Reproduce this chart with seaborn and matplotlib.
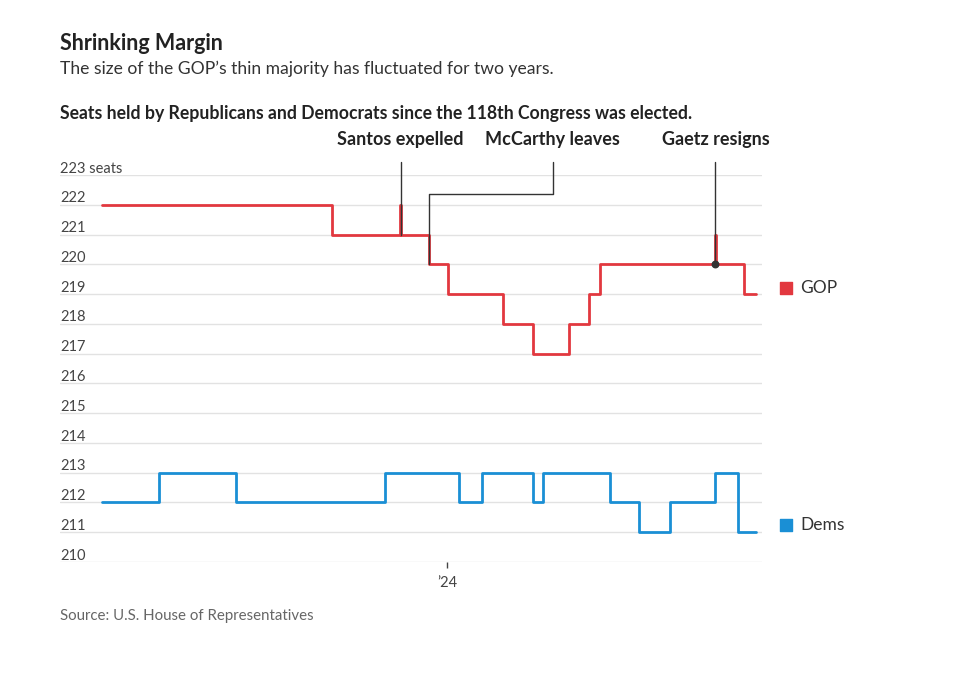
import matplotlib
matplotlib.use("Agg")
import matplotlib.pyplot as plt
import matplotlib.transforms as mtransforms
import pandas as pd
import seaborn as sns


# Seat counts (step changes)
GOP_DATES = ["2023-01-03", "2023-09-02", "2023-11-12", "2023-11-14", "2023-12-13",
             "2024-01-02", "2024-02-29", "2024-03-31", "2024-05-08", "2024-05-29",
             "2024-06-10", "2024-10-09", "2024-10-10", "2024-11-08", "2024-11-21"]
GOP_SEATS = [222, 221, 222, 221, 220, 219, 218, 217, 218, 219, 220, 221, 220, 219, 219]

DEM_DATES = ["2023-01-03", "2023-03-04", "2023-05-24", "2023-10-28", "2024-01-13",
             "2024-02-07", "2024-03-31", "2024-04-11", "2024-06-20", "2024-07-21",
             "2024-08-22", "2024-10-09", "2024-11-02", "2024-11-21"]
DEM_SEATS = [212, 213, 212, 213, 212, 213, 212, 213, 212, 211, 212, 213, 211, 211]

Y_TICKS = list(range(210, 224))

EVENT_LABELS = ["Santos expelled", "McCarthy leaves", "Gaetz resigns"]
EVENT_LABEL_X = ["2023-11-13", "2024-04-21", "2024-10-09"]
EVENT_LINE_X = ["2023-11-13", "2023-12-13", "2024-10-09"]
EVENT_LINE_Y = [221, 220, 220]

RED = "#e2383f"
BLUE = "#1a8fd5"
FONT = "Lato"

sns.set_theme(style="white")
plt.rcParams["font.family"] = [FONT, "DejaVu Sans"]

df = pd.concat([
    pd.DataFrame({"date": pd.to_datetime(GOP_DATES), "seats": GOP_SEATS, "party": "GOP"}),
    pd.DataFrame({"date": pd.to_datetime(DEM_DATES), "seats": DEM_SEATS, "party": "Dems"}),
])

fig = plt.figure(figsize=(9.6, 6.79), dpi=100)
ax = fig.add_axes([60 / 960, 1 - 562 / 679, 702 / 960, 387 / 679])

sns.lineplot(data=df, x="date", y="seats", hue="party",
             palette={"GOP": RED, "Dems": BLUE}, drawstyle="steps-post",
             linewidth=2, legend=False, ax=ax, zorder=3)

ax.set_xlim(pd.Timestamp("2022-11-20"), pd.Timestamp("2024-11-27"))
ax.set_ylim(210, 223)
ax.set_yticks(Y_TICKS)
ax.set_yticklabels([])
ax.tick_params(axis="y", length=0)
ax.grid(axis="y", color="#e2e2e2", linewidth=1)
ax.grid(axis="x", visible=False)
for s in ax.spines.values():
    s.set_visible(False)
ax.set_xlabel("")
ax.set_ylabel("")

ax.set_xticks([pd.Timestamp("2024-01-01")])
ax.set_xticklabels(["\u201924"])
ax.tick_params(axis="x", length=4, width=1, color="#444", labelsize=10.5,
               labelcolor="#444", pad=6, bottom=True)

# y labels sit just above the gridlines
ytrans = mtransforms.blended_transform_factory(ax.transAxes, ax.transData)
for v in Y_TICKS:
    label = f"{v} seats" if v == 223 else str(v)
    ax.text(0, v + 0.08, label, transform=ytrans, ha="left", va="baseline",
            fontsize=10.5, color="#444")

# event annotations
for label, lx, x, y in zip(EVENT_LABELS, EVENT_LABEL_X, EVENT_LINE_X, EVENT_LINE_Y):
    lx = pd.Timestamp(lx)
    x = pd.Timestamp(x)
    ax.text(lx, 224.18, label, ha="center", va="center", fontsize=13,
            fontweight="bold", color="#222", clip_on=False)
    if lx == x:
        ax.plot([x, x], [223.44, y], color="#333", linewidth=1, clip_on=False, zorder=4)
    else:
        ax.plot([lx, lx, x, x], [223.44, 222.37, 222.37, y], color="#333",
                linewidth=1, clip_on=False, zorder=4)
ax.scatter([pd.Timestamp(EVENT_LINE_X[2])], [EVENT_LINE_Y[2]], s=22, color="#333", zorder=5)

# legend squares at the right end
for name, color, yv in [("GOP", RED, 219.2), ("Dems", BLUE, 211.23)]:
    ax.scatter([1.034], [yv], marker="s", s=70, color=color, transform=ytrans, clip_on=False)
    ax.text(1.054, yv, name, transform=ytrans, ha="left", va="center",
            fontsize=12.5, color="#333")

fig.text(60 / 960, 1 - 43 / 679, "Shrinking Margin", fontsize=15.5, fontweight="bold",
         color="#222", va="center")
fig.text(60 / 960, 1 - 69 / 679, "The size of the GOP\u2019s thin majority has fluctuated for two years.",
         fontsize=12.6, color="#333", va="center")
fig.text(60 / 960, 1 - 113 / 679,
         "Seats held by Republicans and Democrats since the 118th Congress was elected.",
         fontsize=12.7, fontweight="bold", color="#222", va="center")
fig.text(60 / 960, 1 - 616 / 679, "Source: U.S. House of Representatives", fontsize=10.8,
         color="#666", va="center")

fig.savefig("out.png", dpi=100)
